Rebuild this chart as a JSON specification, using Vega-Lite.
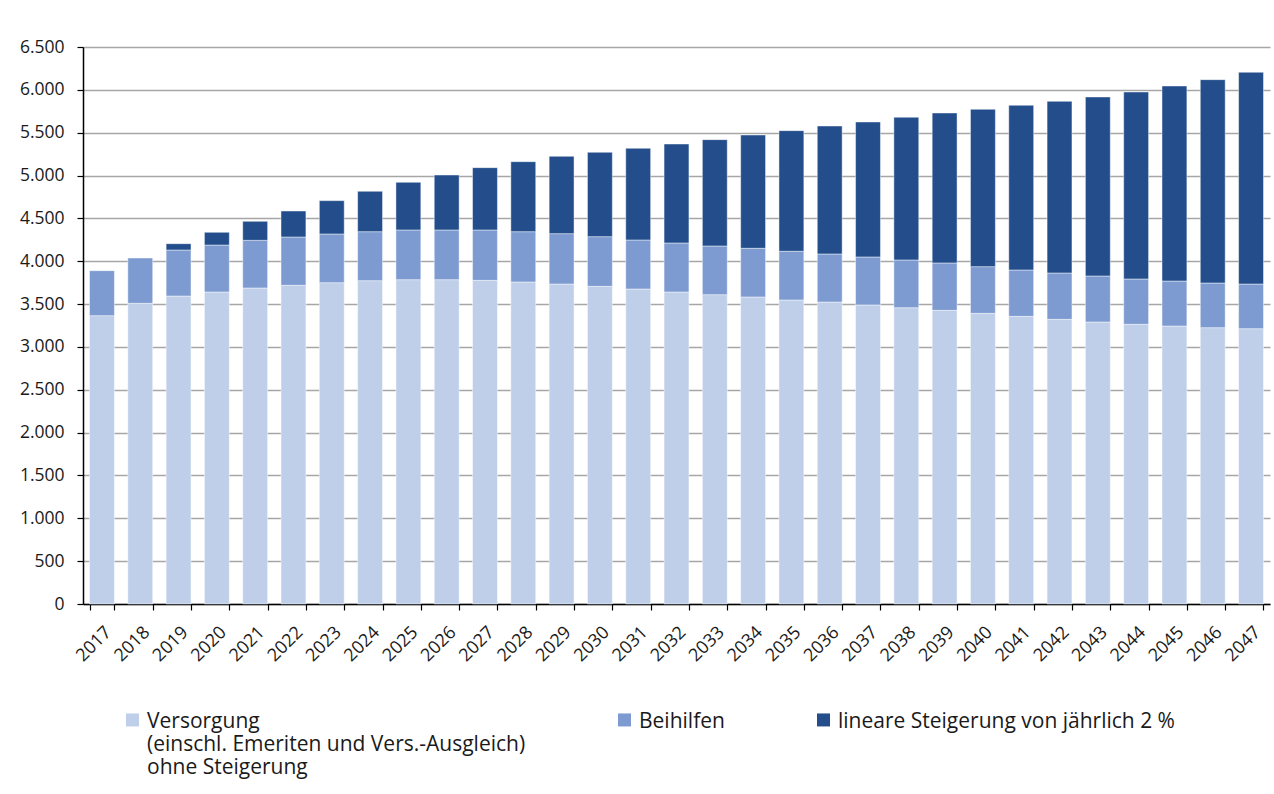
{
  "$schema": "https://vega.github.io/schema/vega-lite/v6.json",
  "width": 1187,
  "height": 557,
  "autosize": {"type": "none"},
  "padding": {"left": 83, "top": 47, "right": 4, "bottom": 190},
  "background": "#ffffff",
  "config": {
    "font": "Open Sans",
    "view": {"stroke": null},
    "axis": {"labelColor": "#1a1a1a", "labelFont": "Open Sans", "domainColor": "#000000", "tickColor": "#000000", "domainWidth": 1.5, "tickWidth": 1.2}
  },
  "data": {
    "values": [
      {"year": "2017", "cat": "Versorgung", "ord": 1, "value": 3365},
      {"year": "2017", "cat": "Beihilfen", "ord": 2, "value": 525},
      {"year": "2018", "cat": "Versorgung", "ord": 1, "value": 3509},
      {"year": "2018", "cat": "Beihilfen", "ord": 2, "value": 529},
      {"year": "2019", "cat": "Versorgung", "ord": 1, "value": 3594},
      {"year": "2019", "cat": "Beihilfen", "ord": 2, "value": 537},
      {"year": "2019", "cat": "lineare Steigerung von jährlich 2 %", "ord": 3, "value": 74},
      {"year": "2020", "cat": "Versorgung", "ord": 1, "value": 3641},
      {"year": "2020", "cat": "Beihilfen", "ord": 2, "value": 548},
      {"year": "2020", "cat": "lineare Steigerung von jährlich 2 %", "ord": 3, "value": 148},
      {"year": "2021", "cat": "Versorgung", "ord": 1, "value": 3688},
      {"year": "2021", "cat": "Beihilfen", "ord": 2, "value": 556},
      {"year": "2021", "cat": "lineare Steigerung von jährlich 2 %", "ord": 3, "value": 222},
      {"year": "2022", "cat": "Versorgung", "ord": 1, "value": 3719},
      {"year": "2022", "cat": "Beihilfen", "ord": 2, "value": 564},
      {"year": "2022", "cat": "lineare Steigerung von jährlich 2 %", "ord": 3, "value": 303},
      {"year": "2023", "cat": "Versorgung", "ord": 1, "value": 3750},
      {"year": "2023", "cat": "Beihilfen", "ord": 2, "value": 568},
      {"year": "2023", "cat": "lineare Steigerung von jährlich 2 %", "ord": 3, "value": 389},
      {"year": "2024", "cat": "Versorgung", "ord": 1, "value": 3773},
      {"year": "2024", "cat": "Beihilfen", "ord": 2, "value": 572},
      {"year": "2024", "cat": "lineare Steigerung von jährlich 2 %", "ord": 3, "value": 471},
      {"year": "2025", "cat": "Versorgung", "ord": 1, "value": 3785},
      {"year": "2025", "cat": "Beihilfen", "ord": 2, "value": 580},
      {"year": "2025", "cat": "lineare Steigerung von jährlich 2 %", "ord": 3, "value": 556},
      {"year": "2026", "cat": "Versorgung", "ord": 1, "value": 3785},
      {"year": "2026", "cat": "Beihilfen", "ord": 2, "value": 580},
      {"year": "2026", "cat": "lineare Steigerung von jährlich 2 %", "ord": 3, "value": 641},
      {"year": "2027", "cat": "Versorgung", "ord": 1, "value": 3777},
      {"year": "2027", "cat": "Beihilfen", "ord": 2, "value": 588},
      {"year": "2027", "cat": "lineare Steigerung von jährlich 2 %", "ord": 3, "value": 727},
      {"year": "2028", "cat": "Versorgung", "ord": 1, "value": 3758},
      {"year": "2028", "cat": "Beihilfen", "ord": 2, "value": 587},
      {"year": "2028", "cat": "lineare Steigerung von jährlich 2 %", "ord": 3, "value": 817},
      {"year": "2029", "cat": "Versorgung", "ord": 1, "value": 3734},
      {"year": "2029", "cat": "Beihilfen", "ord": 2, "value": 588},
      {"year": "2029", "cat": "lineare Steigerung von jährlich 2 %", "ord": 3, "value": 902},
      {"year": "2030", "cat": "Versorgung", "ord": 1, "value": 3707},
      {"year": "2030", "cat": "Beihilfen", "ord": 2, "value": 580},
      {"year": "2030", "cat": "lineare Steigerung von jährlich 2 %", "ord": 3, "value": 984},
      {"year": "2031", "cat": "Versorgung", "ord": 1, "value": 3676},
      {"year": "2031", "cat": "Beihilfen", "ord": 2, "value": 572},
      {"year": "2031", "cat": "lineare Steigerung von jährlich 2 %", "ord": 3, "value": 1070},
      {"year": "2032", "cat": "Versorgung", "ord": 1, "value": 3641},
      {"year": "2032", "cat": "Beihilfen", "ord": 2, "value": 572},
      {"year": "2032", "cat": "lineare Steigerung von jährlich 2 %", "ord": 3, "value": 1155},
      {"year": "2033", "cat": "Versorgung", "ord": 1, "value": 3610},
      {"year": "2033", "cat": "Beihilfen", "ord": 2, "value": 568},
      {"year": "2033", "cat": "lineare Steigerung von jährlich 2 %", "ord": 3, "value": 1241},
      {"year": "2034", "cat": "Versorgung", "ord": 1, "value": 3583},
      {"year": "2034", "cat": "Beihilfen", "ord": 2, "value": 568},
      {"year": "2034", "cat": "lineare Steigerung von jährlich 2 %", "ord": 3, "value": 1322},
      {"year": "2035", "cat": "Versorgung", "ord": 1, "value": 3548},
      {"year": "2035", "cat": "Beihilfen", "ord": 2, "value": 568},
      {"year": "2035", "cat": "lineare Steigerung von jährlich 2 %", "ord": 3, "value": 1408},
      {"year": "2036", "cat": "Versorgung", "ord": 1, "value": 3524},
      {"year": "2036", "cat": "Beihilfen", "ord": 2, "value": 561},
      {"year": "2036", "cat": "lineare Steigerung von jährlich 2 %", "ord": 3, "value": 1493},
      {"year": "2037", "cat": "Versorgung", "ord": 1, "value": 3490},
      {"year": "2037", "cat": "Beihilfen", "ord": 2, "value": 560},
      {"year": "2037", "cat": "lineare Steigerung von jährlich 2 %", "ord": 3, "value": 1575},
      {"year": "2038", "cat": "Versorgung", "ord": 1, "value": 3458},
      {"year": "2038", "cat": "Beihilfen", "ord": 2, "value": 557},
      {"year": "2038", "cat": "lineare Steigerung von jährlich 2 %", "ord": 3, "value": 1665},
      {"year": "2039", "cat": "Versorgung", "ord": 1, "value": 3427},
      {"year": "2039", "cat": "Beihilfen", "ord": 2, "value": 553},
      {"year": "2039", "cat": "lineare Steigerung von jährlich 2 %", "ord": 3, "value": 1750},
      {"year": "2040", "cat": "Versorgung", "ord": 1, "value": 3392},
      {"year": "2040", "cat": "Beihilfen", "ord": 2, "value": 545},
      {"year": "2040", "cat": "lineare Steigerung von jährlich 2 %", "ord": 3, "value": 1836},
      {"year": "2041", "cat": "Versorgung", "ord": 1, "value": 3357},
      {"year": "2041", "cat": "Beihilfen", "ord": 2, "value": 541},
      {"year": "2041", "cat": "lineare Steigerung von jährlich 2 %", "ord": 3, "value": 1922},
      {"year": "2042", "cat": "Versorgung", "ord": 1, "value": 3322},
      {"year": "2042", "cat": "Beihilfen", "ord": 2, "value": 541},
      {"year": "2042", "cat": "lineare Steigerung von jährlich 2 %", "ord": 3, "value": 2003},
      {"year": "2043", "cat": "Versorgung", "ord": 1, "value": 3291},
      {"year": "2043", "cat": "Beihilfen", "ord": 2, "value": 537},
      {"year": "2043", "cat": "lineare Steigerung von jährlich 2 %", "ord": 3, "value": 2089},
      {"year": "2044", "cat": "Versorgung", "ord": 1, "value": 3264},
      {"year": "2044", "cat": "Beihilfen", "ord": 2, "value": 529},
      {"year": "2044", "cat": "lineare Steigerung von jährlich 2 %", "ord": 3, "value": 2182},
      {"year": "2045", "cat": "Versorgung", "ord": 1, "value": 3244},
      {"year": "2045", "cat": "Beihilfen", "ord": 2, "value": 525},
      {"year": "2045", "cat": "lineare Steigerung von jährlich 2 %", "ord": 3, "value": 2276},
      {"year": "2046", "cat": "Versorgung", "ord": 1, "value": 3225},
      {"year": "2046", "cat": "Beihilfen", "ord": 2, "value": 521},
      {"year": "2046", "cat": "lineare Steigerung von jährlich 2 %", "ord": 3, "value": 2373},
      {"year": "2047", "cat": "Versorgung", "ord": 1, "value": 3213},
      {"year": "2047", "cat": "Beihilfen", "ord": 2, "value": 521},
      {"year": "2047", "cat": "lineare Steigerung von jährlich 2 %", "ord": 3, "value": 2471}
    ]
  },
  "mark": {"type": "bar", "stroke": "#ffffff", "strokeWidth": 1, "strokeOpacity": 0.45},
  "encoding": {
    "x": {
      "field": "year",
      "type": "nominal",
      "scale": {"paddingInner": 0.35, "paddingOuter": 0.17},
      "axis": {
        "title": null,
        "labelAngle": -45,
        "labelFontSize": 18,
        "labelPadding": 13,
        "tickSize": 6,
        "tickBand": "extent",
        "grid": false
      }
    },
    "y": {
      "field": "value",
      "type": "quantitative",
      "stack": "zero",
      "scale": {"domain": [0, 6500], "nice": false},
      "axis": {
        "title": null,
        "values": [0, 500, 1000, 1500, 2000, 2500, 3000, 3500, 4000, 4500, 5000, 5500, 6000, 6500],
        "labelExpr": "replace(format(datum.value, ','), ',', '.')",
        "labelFontSize": 17.5,
        "labelPadding": 13,
        "tickSize": 6,
        "grid": true,
        "gridColor": "#a6a6a6",
        "gridWidth": 1.5
      }
    },
    "order": {"field": "ord", "type": "quantitative"},
    "color": {
      "field": "cat",
      "type": "nominal",
      "scale": {
        "domain": ["Versorgung", "Beihilfen", "lineare Steigerung von jährlich 2 %"],
        "range": ["#bfcfe9", "#7d9bd1", "#234e8b"]
      },
      "legend": {
        "title": null,
        "orient": "none",
        "legendX": 39,
        "legendY": 670,
        "direction": "horizontal",
        "columns": 3,
        "columnPadding": 88,
        "padding": 0,
        "symbolType": "M-1,-2.2H1V-0.2H-1Z",
        "symbolSize": 169,
        "symbolStrokeWidth": 0,
        "labelFontSize": 21,
        "labelBaseline": "alphabetic",
        "labelColor": "#1a1a1a",
        "labelLimit": 0,
        "labelOffset": 4,
        "labelExpr": "datum.label == 'Versorgung' ? ['Versorgung', '(einschl. Emeriten und Vers.-Ausgleich)', 'ohne Steigerung'] : [datum.label, ' ', ' ']"
      }
    }
  }
}
